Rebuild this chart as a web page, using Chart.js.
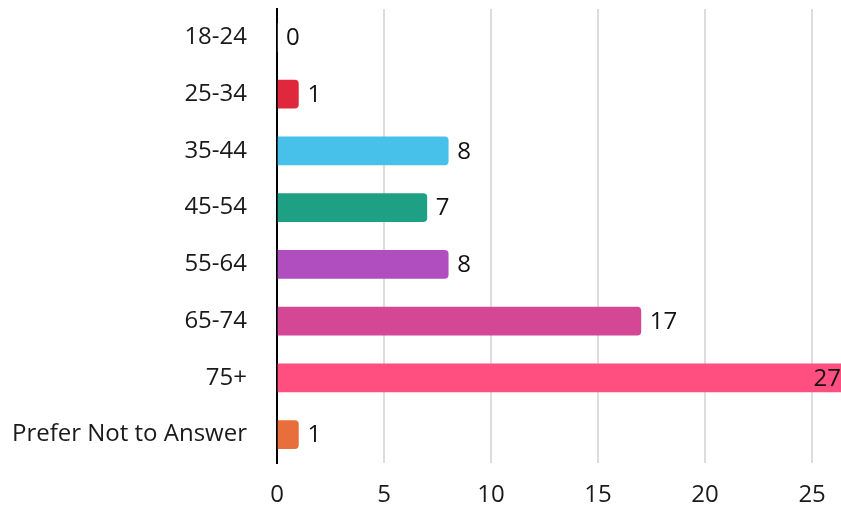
<!DOCTYPE html>
<html>
<head>
<meta charset="utf-8">
<script src="https://cdn.jsdelivr.net/npm/chart.js@4"></script>
<style>
    html, body { margin: 0; padding: 0; background: #fff; }
    #wrap { width: 841px; height: 507px; }
</style>
</head>
<body>
<div id="wrap"><canvas id="ageChart"></canvas></div>
<script>
// age groups and respondent counts
const ageGroups = ['18-24', '25-34', '35-44', '45-54', '55-64', '65-74', '75+', 'Prefer Not to Answer'];
const counts = [0, 1, 8, 7, 8, 17, 27, 1];
const barColors = ['#8E8E8E', '#E0283C', '#47C1EA', '#1DA083', '#B04EC0', '#D34795', '#FF4F80', '#E86E3C'];
const xTicks = [0, 5, 10, 15, 20, 25];

Chart.defaults.font.family = "'Open Sans', sans-serif";
Chart.defaults.color = '#1a1a1a';

// draws the count next to each bar, kept inside the chart area
const valueLabels = {
    id: 'valueLabels',
    afterDatasetsDraw(chart) {
        var ctx = chart.ctx;
        var meta = chart.getDatasetMeta(0);
        var area = chart.chartArea;
        ctx.save();
        ctx.font = "24px 'Open Sans', sans-serif";
        ctx.fillStyle = '#111';
        ctx.textBaseline = 'middle';
        ctx.textAlign = 'left';
        meta.data.forEach(function (bar, i) {
            var txt = String(counts[i]);
            var w = ctx.measureText(txt).width;
            var x = bar.x + 9;
            if (x + w > area.right) {
                x = area.right - w;
            }
            ctx.fillText(txt, x, bar.y + 1);
        });
        ctx.restore();
    }
};

var ctx = document.getElementById('ageChart').getContext('2d');
var myChart = new Chart(ctx, {
    type: 'bar',
    data: {
        labels: ageGroups,
        datasets: [{
            data: counts,
            backgroundColor: barColors,
            borderRadius: 4,
            barThickness: 28
        }]
    },
    options: {
        indexAxis: 'y',
        responsive: true,
        maintainAspectRatio: false,
        animation: false,
        layout: { padding: { top: 9, right: 0, bottom: 0, left: 0 } },
        plugins: {
            legend: { display: false },
            tooltip: { enabled: false }
        },
        scales: {
            x: {
                min: 0,
                max: 26.35,
                afterBuildTicks: function (scale) {
                    scale.ticks = xTicks.map(function (v) { return { value: v }; });
                },
                afterFit: function (scale) {
                    scale.height = 44;
                    scale.paddingLeft = 0;
                    scale.paddingRight = 0;
                },
                grid: {
                    color: '#DDDDDD',
                    lineWidth: 2,
                    drawTicks: false
                },
                border: { display: false },
                ticks: {
                    padding: 18,
                    font: { size: 24 },
                    color: '#1a1a1a'
                }
            },
            y: {
                afterFit: function (scale) {
                    scale.width = 277;
                    scale.paddingTop = 0;
                    scale.paddingBottom = 0;
                },
                grid: { display: false, drawTicks: false },
                border: { display: true, color: '#000', width: 2 },
                ticks: {
                    padding: 30,
                    font: { size: 24 },
                    color: '#1a1a1a'
                }
            }
        }
    },
    plugins: [valueLabels]
});
</script>
</body>
</html>
